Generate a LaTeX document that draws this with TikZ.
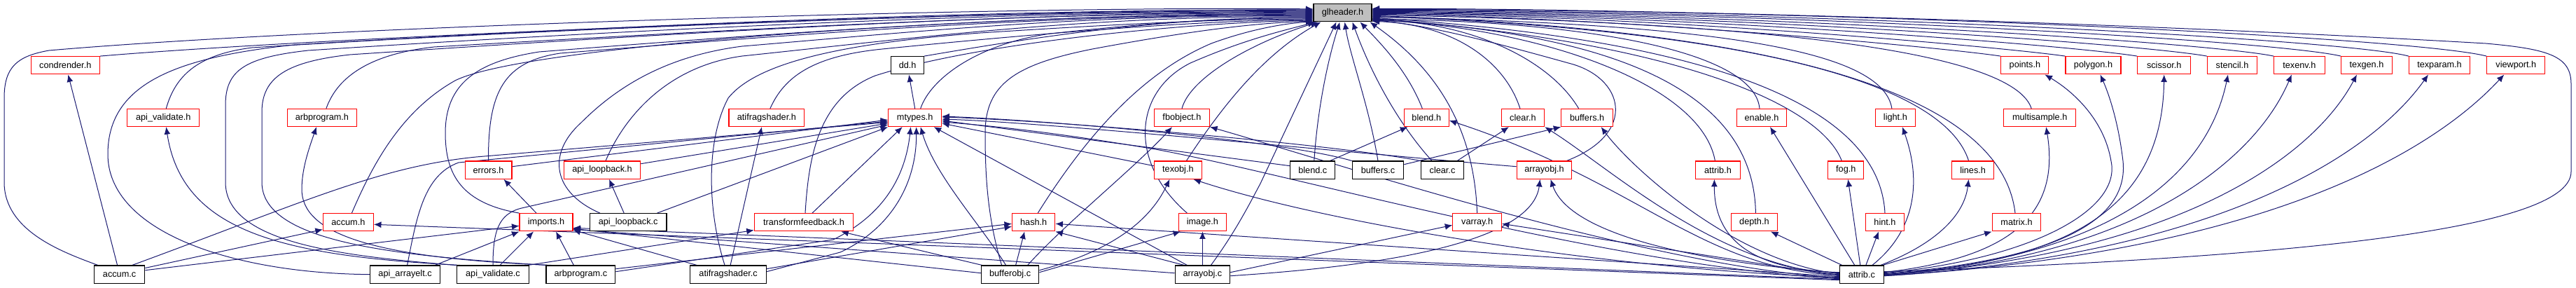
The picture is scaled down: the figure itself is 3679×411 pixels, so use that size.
\documentclass[tikz,border=0pt]{standalone}
\usepackage{fontspec}
\setmainfont{Liberation Sans}
\usetikzlibrary{arrows.meta}
\definecolor{edgec}{HTML}{191970}
\definecolor{gfill}{HTML}{BFBFBF}
\pgfdeclarelayer{bg}
\pgfsetlayers{bg,main}
\tikzset{
  nd/.style={draw, line width=1.1pt, minimum height=25.3pt, inner sep=0pt, fill=white, font=\fontsize{12.7}{15}\selectfont},
  hdr/.style={nd, draw=red},
  srcf/.style={nd, draw=black},
  e/.style={draw=edgec, line width=1pt, -{Latex[length=10.5pt,width=9pt]}},
}
\begin{document}
\begin{tikzpicture}[x=1pt,y=-1pt]
\useasboundingbox (0,0) rectangle (3679,411);
% top
\node[srcf, fill=gfill, minimum width=83pt] (G) at (1917.5,18.3) {glheader.h};
% row 1
\node[hdr, minimum width=98pt] (condrender) at (93.3,93.3) {condrender.h};
\node[srcf, minimum width=46.6pt] (dd) at (1296.1,93.3) {dd.h};
\node[hdr, minimum width=68pt] (points) at (2891.9,93.3) {points.h};
\node[hdr, minimum width=79pt] (polygon) at (2989.5,93.3) {polygon.h};
\node[hdr, minimum width=75.8pt] (scissor) at (3090.7,93.3) {scissor.h};
\node[hdr, minimum width=71.1pt] (stencil) at (3188,93.3) {stencil.h};
\node[hdr, minimum width=72.3pt] (texenv) at (3283.9,93.3) {texenv.h};
\node[hdr, minimum width=72.3pt] (texgen) at (3380,93.3) {texgen.h};
\node[hdr, minimum width=87.1pt] (texparam) at (3484,93.3) {texparam.h};
\node[hdr, minimum width=83.2pt] (viewport) at (3593.3,93.3) {viewport.h};
% row 2
\node[hdr, minimum width=102.8pt] (apivalh) at (233.3,168) {api\_validate.h};
\node[hdr, minimum width=98.9pt] (arbprogh) at (459.9,168) {arbprogram.h};
\node[hdr, minimum width=75.9pt] (mtypes) at (1306.7,168) {mtypes.h};
\node[hdr, minimum width=107.9pt] (atifragh) at (1094.9,168) {atifragshader.h};
\node[hdr, minimum width=79.1pt] (fbobj) at (1688,168) {fbobject.h};
\node[hdr, minimum width=64.1pt] (blendh) at (2037.3,168) {blend.h};
\node[hdr, minimum width=61.7pt] (clearh) at (2174.9,168) {clear.h};
\node[hdr, minimum width=73.6pt] (buffersh) at (2266.6,168) {buffers.h};
\node[hdr, minimum width=70.7pt] (enableh) at (2516,168) {enable.h};
\node[hdr, minimum width=57.7pt] (lighth) at (2706.9,168) {light.h};
\node[hdr, minimum width=102.8pt] (multih) at (2913.2,168) {multisample.h};
% row 3
\node[hdr, minimum width=66.9pt] (errorsh) at (697.5,242.7) {errors.h};
\node[hdr, minimum width=109.5pt] (apiloopbh) at (860,242.7) {api\_loopback.h};
\node[hdr, minimum width=68pt] (texobj) at (1682.4,242.7) {texobj.h};
\node[srcf, minimum width=64.1pt] (blendc) at (1874.8,242.7) {blend.c};
\node[srcf, minimum width=73.5pt] (buffersc) at (1968,242.7) {buffers.c};
\node[srcf, minimum width=61.3pt] (clearc) at (2060,242.7) {clear.c};
\node[hdr, minimum width=78.6pt] (arrayobjh) at (2205.5,242.7) {arrayobj.h};
\node[hdr, minimum width=63.3pt] (attribh) at (2453.4,242.7) {attrib.h};
\node[hdr, minimum width=51pt] (fogh) at (2636.3,242.7) {fog.h};
\node[hdr, minimum width=60.1pt] (linesh) at (2817.6,242.7) {lines.h};
% row 4
\node[hdr, minimum width=72pt] (accumh) at (497.4,317.3) {accum.h};
\node[hdr, minimum width=76pt] (importsh) at (780,317.3) {imports.h};
\node[srcf, minimum width=109.5pt] (apiloopbc) at (897.2,317.3) {api\_loopback.c};
\node[hdr, minimum width=141.5pt] (tfbh) at (1148,317.3) {transformfeedback.h};
\node[hdr, minimum width=61.3pt] (hashh) at (1476.2,317.3) {hash.h};
\node[hdr, minimum width=67.6pt] (imageh) at (1717.4,317.3) {image.h};
\node[hdr, minimum width=69.6pt] (varrayh) at (2109.6,317.3) {varray.h};
\node[hdr, minimum width=66pt] (depthh) at (2505.4,317.3) {depth.h};
\node[hdr, minimum width=55pt] (hinth) at (2692,317.3) {hint.h};
\node[hdr, minimum width=69.6pt] (matrixh) at (2880,317.3) {matrix.h};
% row 5
\node[srcf, minimum width=72.4pt] (accumc) at (170.6,391.7) {accum.c};
\node[srcf, minimum width=100pt] (apiarrc) at (578.6,391.7) {api\_arrayelt.c};
\node[srcf, minimum width=102.8pt] (apivalc) at (704,391.7) {api\_validate.c};
\node[srcf, minimum width=98.9pt] (arbprogc) at (829.4,391.7) {arbprogram.c};
\node[srcf, minimum width=108.4pt] (atifragc) at (1040.1,391.7) {atifragshader.c};
\node[srcf, minimum width=82.6pt] (bufobjc) at (1442.6,391.7) {bufferobj.c};
\node[srcf, minimum width=78.7pt] (arrayobjc) at (1717.4,391.7) {arrayobj.c};
\node[srcf, minimum width=62.8pt] (attribc) at (2658.8,391.7) {attrib.c};

\begin{pgfonlayer}{bg}
% ---- edges into glheader.h, left side
\draw[e] ([xshift=6pt]accumc.north west) .. controls (90,360) and (6,330) .. (6,260) -- (6,140) .. controls (6,95) and (25,80) .. (70,72) .. controls (500,35) and (1500,8) .. ([yshift=5.3pt]G.west);
\draw[e] (condrender.north east) .. controls (500,50) and (1500,12) .. ([yshift=4.3pt]G.west);
\draw[e] (apiarrc.west) .. controls (330,390) and (154,330) .. (154,220) .. controls (154,120) and (250,82) .. (420,64) .. controls (900,35) and (1500,11) .. ([yshift=3.3pt]G.west);
\draw[e] ([xshift=4pt]apivalh.north) .. controls (250,110) and (280,78) .. (360,68) .. controls (800,40) and (1500,13) .. ([yshift=2.3pt]G.west);
\draw[e] (apivalc.north west) .. controls (480,365) and (322,345) .. (322,260) -- (322,150) .. controls (322,100) and (350,82) .. (440,72) .. controls (900,42) and (1500,14) .. ([yshift=1.3pt]G.west);
\draw[e] ([xshift=2pt]arbprogc.north west) .. controls (560,365) and (374,345) .. (374,260) -- (374,160) .. controls (374,110) and (410,88) .. (500,78) .. controls (950,48) and (1500,15) .. ([yshift=0.3pt]G.west);
\draw[e] ([xshift=6pt]arbprogh.north) .. controls (480,115) and (520,78) .. (620,67) .. controls (1000,45) and (1500,16) .. ([yshift=-0.7pt]G.west);
\draw[e] ([xshift=5pt]accumh.north) .. controls (530,240) and (570,160) .. (650,115) .. controls (760,60) and (1500,17) .. ([yshift=-1.7pt]G.west);
\draw[e] (importsh.north west) .. controls (660,290) and (636,250) .. (636,190) .. controls (636,120) and (680,88) .. (770,74) .. controls (1100,48) and (1500,18) .. ([yshift=-2.7pt]G.west);
\draw[e] (errorsh.north) .. controls (697,130) and (720,88) .. (800,76) .. controls (1100,52) and (1500,19) .. ([yshift=-3.7pt]G.west);
\draw[e] ([xshift=15pt]apiloopbc.north west) .. controls (790,275) and (780,220) .. (830,175) .. controls (880,125) and (950,80) .. (1060,66) .. controls (1300,46) and (1550,20) .. ([yshift=-4.7pt]G.west);
\draw[e] ([xshift=5pt]apiloopbh.north) .. controls (890,170) and (950,95) .. (1060,80) .. controls (1300,55) and (1550,22) .. ([yshift=-5.7pt]G.west);
\draw[e] (dd.north east) .. controls (1450,58) and (1650,24) .. ([yshift=-6.7pt]G.west);
\draw[e] ([xshift=8pt]mtypes.north) .. controls (1330,110) and (1400,62) .. (1500,48) .. controls (1650,32) and (1750,25) .. ([yshift=-7.7pt]G.west);
\draw[e] ([xshift=-5pt]atifragc.north) .. controls (1010,300) and (1008,200) .. (1040,140) .. controls (1080,90) and (1200,62) .. (1400,47) .. controls (1600,34) and (1750,27) .. ([yshift=-8.7pt]G.west);
\draw[e] ([xshift=5pt]atifragh.north) .. controls (1120,110) and (1160,80) .. (1260,70) .. controls (1500,46) and (1720,29) .. ([yshift=-9.7pt]G.west);
\draw[e] ([xshift=2pt]tfbh.north) .. controls (1155,220) and (1170,140) .. (1250,108) .. controls (1400,60) and (1700,32) .. ([yshift=-10.7pt]G.west);
\draw[e] ([xshift=-12pt]bufobjc.north) .. controls (1410,310) and (1407,250) .. (1407,190) .. controls (1407,120) and (1450,92) .. (1560,70) .. controls (1700,44) and (1790,33) .. ([yshift=-11.7pt]G.west);
\draw[e] ([xshift=6pt]hashh.north) .. controls (1560,180) and (1640,100) .. (1730,62) .. controls (1790,40) and (1840,33) .. ([yshift=-12.6pt]G.west);
\draw[e] ([xshift=-22pt]imageh.north) .. controls (1610,230) and (1620,130) .. (1700,90) .. controls (1780,55) and (1840,42) .. ([xshift=3pt]G.south west);
\draw[e] (fbobj.north) .. controls (1700,110) and (1790,60) .. ([xshift=7pt]G.south west);
\draw[e] ([xshift=12pt]texobj.north) .. controls (1740,160) and (1800,80) .. ([xshift=11pt]G.south west);
% ---- below glheader.h
\draw[e] ([xshift=12pt]arrayobjc.north) .. controls (1765,330) and (1785,290) .. (1800,262) -- ([xshift=-9pt]G.south);
\draw[e] ([xshift=2pt]blendc.north) .. controls (1882,150) and (1898,80) .. ([xshift=-4pt]G.south);
\draw[e] (buffersc.north) .. controls (1955,150) and (1928,80) .. ([xshift=3pt]G.south);
\draw[e] ([xshift=-15pt]clearc.north) .. controls (2000,180) and (1960,110) .. ([xshift=14pt]G.south);
\draw[e] ([xshift=-6pt]blendh.north) .. controls (2010,100) and (1970,60) .. ([xshift=25pt]G.south);
\draw[e] (varrayh.north) .. controls (2105,170) and (2040,90) .. ([xshift=-3pt]G.south east);
% ---- right side of glheader.h
\draw[e] ([xshift=-4pt]clearh.north) .. controls (2150,90) and (2080,35) .. ([yshift=-12pt]G.east);
\draw[e] ([xshift=-12pt]buffersh.north) .. controls (2210,80) and (2090,30) .. ([yshift=-11pt]G.east);
\draw[e] ([xshift=-8pt]arrayobjh.north east) .. controls (2340,190) and (2320,110) .. (2240,90) .. controls (2150,65) and (2040,35) .. ([yshift=-10.5pt]G.east);
\draw[e] ([xshift=-4pt]attribh.north) .. controls (2430,120) and (2200,40) .. ([yshift=-10pt]G.east);
\draw[e] ([xshift=2pt]depthh.north) .. controls (2505,150) and (2350,50) .. ([yshift=-9.5pt]G.east);
\draw[e] ([xshift=-3pt]enableh.north) .. controls (2505,70) and (2250,30) .. ([yshift=-9pt]G.east);
\draw[e] ([xshift=-6pt]fogh.north) .. controls (2600,150) and (2400,60) .. ([yshift=-8pt]G.east);
\draw[e] (hinth.north) .. controls (2685,170) and (2500,60) .. ([yshift=-7pt]G.east);
\draw[e] ([xshift=-5pt]lighth.north) .. controls (2690,80) and (2500,35) .. ([yshift=-6pt]G.east);
\draw[e] ([xshift=-6pt]linesh.north) .. controls (2780,130) and (2550,45) .. ([yshift=-5pt]G.east);
\draw[e] ([xshift=-2pt]matrixh.north) .. controls (2860,150) and (2600,45) .. ([yshift=-4pt]G.east);
\draw[e] ([xshift=-12pt]multih.north) .. controls (2880,90) and (2650,35) .. ([yshift=-3pt]G.east);
\draw[e] (points.north west) .. controls (2760,66) and (2300,24) .. ([yshift=-2pt]G.east);
\draw[e] (polygon.north west) .. controls (2850,66) and (2350,22) .. ([yshift=-1pt]G.east);
\draw[e] (scissor.north west) .. controls (2950,64) and (2400,21) .. (G.east);
\draw[e] (stencil.north west) .. controls (3050,62) and (2450,20) .. ([yshift=1pt]G.east);
\draw[e] (texenv.north west) .. controls (3150,60) and (2500,19) .. ([yshift=2pt]G.east);
\draw[e] (texgen.north west) .. controls (3250,58) and (2550,17) .. ([yshift=3pt]G.east);
\draw[e] (texparam.north west) .. controls (3350,56) and (2600,16) .. ([yshift=4pt]G.east);
\draw[e] (viewport.north west) .. controls (3450,54) and (2650,14) .. ([yshift=5pt]G.east);
\draw[e] ([yshift=4pt]attribc.east) .. controls (3200,370) and (3672,335) .. (3672,245) -- (3672,120) .. controls (3672,80) and (3640,70) .. (3550,62) .. controls (3000,30) and (2300,12) .. ([yshift=6pt]G.east);
% ---- mtypes.h
\draw[e] (mtypes.north) -- ([xshift=2pt]dd.south);
\draw[e] ([yshift=5pt]errorsh.east) -- ([yshift=-3pt]mtypes.west);
\draw[e] ([yshift=9pt]apiloopbh.east) -- ([yshift=-8pt]mtypes.west);
\draw[e] ([xshift=18pt]accumc.north) .. controls (430,290) and (540,238) .. (680,224) -- ([yshift=-6.5pt]mtypes.west);
\draw[e] ([xshift=3pt]apiarrc.north) .. controls (595,310) and (605,250) .. (655,232) -- ([yshift=-5pt]mtypes.west);
\draw[e] (apivalc.north) .. controls (704,330) and (712,305) .. (745,297) -- ([yshift=-10pt]mtypes.west);
\draw[e] ([xshift=-14pt]apiloopbc.north east) -- (mtypes.south west);
\draw[e] ([xshift=12pt]tfbh.north) -- ([xshift=-18pt]mtypes.south);
\draw[e] ([yshift=4pt]arbprogc.east) -- (1190,342) .. controls (1255,310) and (1292,260) .. ([xshift=-6pt]mtypes.south);
\draw[e] ([yshift=4pt]atifragc.east) -- (1200,360) .. controls (1265,330) and (1309,270) .. ([xshift=2pt]mtypes.south);
\draw[e] ([xshift=-6pt]bufobjc.north) .. controls (1400,320) and (1335,250) .. ([xshift=8pt]mtypes.south);
\draw[e] ([xshift=-22pt]arrayobjc.north) -- ([xshift=27pt]mtypes.south);
\draw[e] ([yshift=6pt]texobj.west) -- ([yshift=-8pt]mtypes.east);
\draw[e] ([yshift=6pt]blendc.west) -- ([yshift=-4pt]mtypes.east);
\draw[e] (buffersc.north west) .. controls (1830,200) and (1500,172) .. ([yshift=2pt]mtypes.east);
\draw[e] (clearc.north west) .. controls (1900,205) and (1500,172) .. ([yshift=1pt]mtypes.east);
\draw[e] ([yshift=5pt]arrayobjh.west) .. controls (1950,220) and (1500,175) .. ([yshift=-2pt]mtypes.east);
\draw[e] ([yshift=-6pt]attribc.west) .. controls (2300,380) and (1850,250) .. (1650,213) .. controls (1500,188) and (1420,180) .. ([yshift=-6pt]mtypes.east);
% ---- other headers
\draw[e] ([xshift=-3pt]accumc.north) -- ([xshift=4pt]condrender.south);
\draw[e] ([yshift=-4pt]accumc.north east) -- ([yshift=3pt]accumh.south west);
\draw[e] ([yshift=6pt]accumc.east) -- ([yshift=-5pt]importsh.west);
\draw[e] ([xshift=5pt]apivalc.north west) .. controls (400,365) and (260,330) .. ([xshift=4pt]apivalh.south);
\draw[e] ([xshift=-2pt]apivalc.north east) -- ([yshift=2pt]tfbh.south west);
\draw[e] ([xshift=8pt]arbprogc.north west) .. controls (520,368) and (431,330) .. (431,270) .. controls (431,240) and (442,210) .. ([xshift=-8pt]arbprogh.south);
\draw[e] ([xshift=-8pt]apiarrc.north east) -- (importsh.south west);
\draw[e] ([xshift=10pt]apivalc.north) -- ([xshift=-18pt]importsh.south);
\draw[e] ([xshift=-10pt]arbprogc.north) -- ([xshift=14pt]importsh.south);
\draw[e] ([xshift=10pt]atifragc.north west) -- ([yshift=-11pt]importsh.east);
\draw[e] ([yshift=2pt]bufobjc.west) -- ([yshift=-9pt]importsh.east);
\draw[e] ([yshift=2pt]arrayobjc.west) -- ([yshift=-10pt]importsh.east);
\draw[e] ([xshift=-14pt]importsh.north) -- ([xshift=22pt]errorsh.south);
\draw[e] ([xshift=-6pt]apiloopbc.north) -- ([xshift=10pt]apiloopbh.south);
\draw[e] ([xshift=3pt]atifragc.north) -- ([xshift=-7pt]atifragh.south);
\draw[e] ([yshift=8pt]arbprogc.east) -- ([yshift=-2pt]hashh.west);
\draw[e] ([yshift=8pt]atifragc.east) -- ([yshift=-6pt]hashh.west);
\draw[e] ([xshift=2pt]bufobjc.north west) -- ([xshift=-18pt]tfbh.south east);
\draw[e] ([xshift=8pt]bufobjc.north) -- ([xshift=-13pt]hashh.south);
\draw[e] ([xshift=25pt]bufobjc.north) .. controls (1520,320) and (1620,240) .. ([xshift=-14pt]fbobj.south);
\draw[e] ([yshift=6pt]bufobjc.east) .. controls (1580,360) and (1640,320) .. ([xshift=-12pt]texobj.south);
\draw[e] ([yshift=3pt]bufobjc.east) -- ([xshift=3pt]imageh.south west);
\draw[e] ([xshift=-26pt]arrayobjc.north) -- (hashh.south east);
\draw[e] (arrayobjc.north) -- (imageh.south);
\draw[e] ([yshift=3pt]arrayobjc.east) -- ([yshift=-4pt]varrayh.west);
\draw[e] ([yshift=-2pt]arrayobjc.east) .. controls (2050,375) and (2190,330) .. ([xshift=-6pt]arrayobjh.south);
\draw[e] ([xshift=-8pt]blendc.north east) -- ([xshift=-27pt]blendh.south);
\draw[e] ([xshift=-10pt]clearc.north east) -- ([xshift=-20pt]clearh.south);
\draw[e] ([yshift=8pt]buffersc.east) -- (buffersh.south west);
% ---- attrib.c
\draw[e] ([yshift=-8pt]attribc.west) -- ([yshift=-3pt]accumh.east);
\draw[e] ([yshift=-7pt]attribc.west) -- ([yshift=-8pt]importsh.east);
\draw[e] ([yshift=-3pt]attribc.west) -- ([yshift=-2pt]hashh.east);
\draw[e] ([yshift=-4pt]attribc.west) .. controls (2300,385) and (1900,320) .. ([xshift=22pt]texobj.south);
\draw[e] ([yshift=-5pt]attribc.west) .. controls (2350,380) and (1900,230) .. (fbobj.south east);
\draw[e] ([yshift=-2pt]attribc.west) -- ([yshift=-2pt]varrayh.east);
\draw[e] ([yshift=-1pt]attribc.west) .. controls (2430,385) and (2340,260) .. ([yshift=-4pt]blendh.east);
\draw[e] (attribc.west) .. controls (2450,380) and (2300,240) .. (clearh.south east);
\draw[e] ([yshift=1pt]attribc.west) .. controls (2480,375) and (2330,240) .. ([xshift=20pt]buffersh.south);
\draw[e] ([yshift=2pt]attribc.west) .. controls (2400,372) and (2240,330) .. ([xshift=9pt]arrayobjh.south);
\draw[e] ([yshift=3pt]attribc.west) .. controls (2500,385) and (2448,340) .. ([xshift=-5pt]attribh.south);
\draw[e] ([xshift=4pt]attribc.north west) -- ([xshift=-10pt]depthh.south east);
\draw[e] ([xshift=-10pt]attribc.north) -- ([xshift=12pt]enableh.south);
\draw[e] ([xshift=-2pt]attribc.north) -- ([xshift=3pt]fogh.south);
\draw[e] ([xshift=6pt]attribc.north) -- ([xshift=-9pt]hinth.south);
\draw[e] ([xshift=15pt]attribc.north) .. controls (2735,330) and (2745,260) .. ([xshift=10pt]lighth.south);
\draw[e] ([xshift=-5pt]attribc.north east) .. controls (2760,350) and (2805,310) .. ([xshift=-6pt]linesh.south);
\draw[e] ([xshift=-2pt]attribc.north east) -- (matrixh.south west);
\draw[e] ([yshift=3pt]attribc.east) .. controls (2850,370) and (2945,320) .. ([xshift=9pt]multih.south);
\draw[e] ([yshift=2pt]attribc.east) .. controls (2900,370) and (3030,300) .. (3015,230) .. controls (3005,170) and (2960,130) .. ([xshift=-6pt]points.south east);
\draw[e] ([yshift=1pt]attribc.east) .. controls (2950,370) and (3040,310) .. (3032,230) .. controls (3025,170) and (3010,130) .. ([xshift=10pt]polygon.south);
\draw[e] (attribc.east) .. controls (2950,375) and (3088,300) .. (scissor.south);
\draw[e] (attribc.east) .. controls (3000,370) and (3150,260) .. ([xshift=-6pt]stencil.south);
\draw[e] ([yshift=-1pt]attribc.east) .. controls (3050,370) and (3220,230) .. ([xshift=-11pt]texenv.south);
\draw[e] ([yshift=-1pt]attribc.east) .. controls (3100,365) and (3300,230) .. ([xshift=-14pt]texgen.south);
\draw[e] ([yshift=-2pt]attribc.east) .. controls (3150,365) and (3380,230) .. ([xshift=-16pt]texparam.south);
\draw[e] ([yshift=-2pt]attribc.east) .. controls (3250,360) and (3480,210) .. ([xshift=-17pt]viewport.south);
\end{pgfonlayer}
\end{tikzpicture}
\end{document}
